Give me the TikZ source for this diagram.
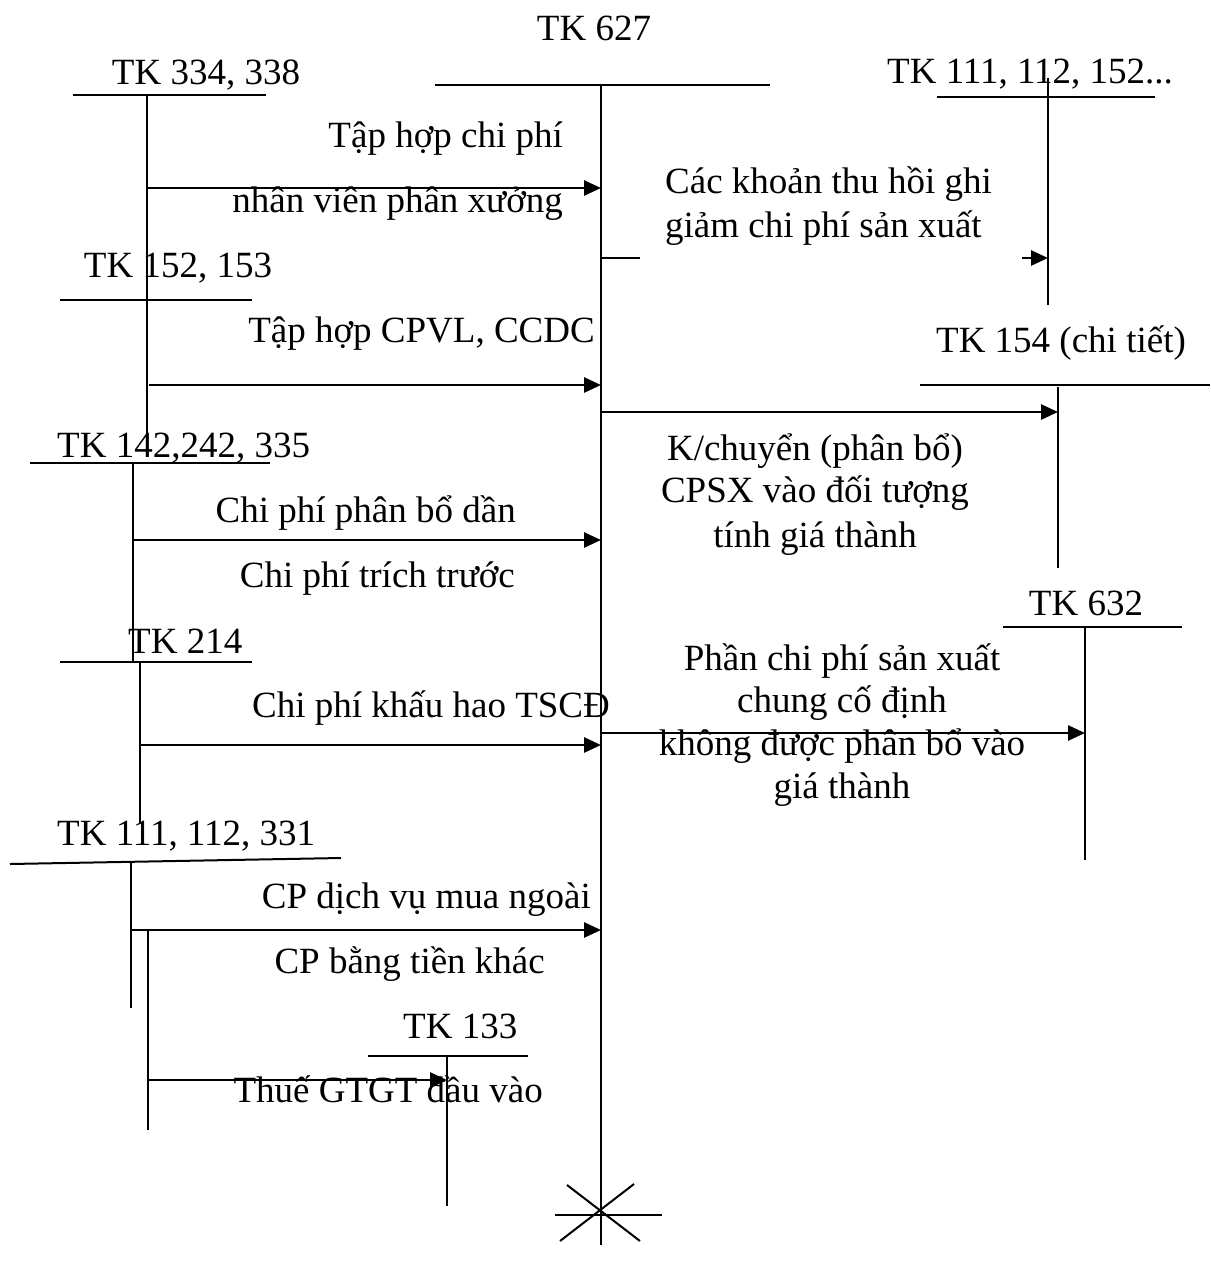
\documentclass[tikz,border=0pt]{standalone}
\usepackage{fontspec}
\setmainfont{Liberation Serif}
\usetikzlibrary{arrows.meta}
\begin{document}
\begin{tikzpicture}[x=1pt,y=-1pt,
  tline/.style={line width=2pt},
  tip/.style={-{Triangle[length=17pt,width=15pt]}},
  flow/.style={line width=2.8pt,tip},
  lbl/.style={inner sep=0pt,font=\fontsize{37}{43}\selectfont},
  lblr/.style={lbl,anchor=base east},
  lbll/.style={lbl,anchor=base west},
  lblc/.style={lbl,anchor=base}]
\useasboundingbox (0,0) rectangle (1210,1274);
% ---- main account TK 627
\node[lblc] (t627) at (594,40) {TK 627};
\draw[tline] (435,85) -- (770,85);
\draw[tline] (601,85) -- (601,1245);
\draw[tline] (555,1215) -- (662,1215);
\draw[tline] (567,1185) -- (640,1241);
\draw[tline] (634,1184) -- (560,1241);
% ---- TK 334, 338 and TK 152, 153
\node[lblc] (t334) at (206,84) {TK 334, 338};
\draw[tline] (73,95) -- (266,95);
\draw[tline] (147,95) -- (147,438);
\node[lblc] (t152) at (178,277) {TK 152, 153};
\draw[tline] (60,300) -- (252,300);
\coordinate (a1s) at (147,188); \coordinate (a1e) at (601,188);
\draw[flow] (a1s) -- (a1e);
\node[lblr] (l1a) at (563,147) {Tập hợp chi phí};
\node[lblr] (l1b) at (563,212) {nhân viên phân xưởng};
\coordinate (a2s) at (149,385); \coordinate (a2e) at (601,385);
\draw[flow] (a2s) -- (a2e);
\node[lblr] (l2) at (595,342) {Tập hợp CPVL, CCDC};
% ---- TK 142,242, 335
\node[lbll] (t142) at (57,457) {TK 142,242, 335};
\draw[tline] (30,463) -- (270,463);
\draw[tline] (133,463) -- (133,662);
\coordinate (a3s) at (133,540); \coordinate (a3e) at (601,540);
\draw[flow] (a3s) -- (a3e);
\node[lblr] (l3a) at (516,522) {Chi phí phân bổ dần};
\node[lblr] (l3b) at (515,587) {Chi phí trích trước};
% ---- TK 214
\node[lbll] (t214) at (128,653) {TK 214};
\draw[tline] (60,662) -- (252,662);
\draw[tline] (140,662) -- (140,823);
\coordinate (a4s) at (140,745); \coordinate (a4e) at (601,745);
\draw[flow] (a4s) -- (a4e);
\node[lblr] (l4) at (610,717) {Chi phí khấu hao TSCĐ};
% ---- TK 111, 112, 331
\node[lbll] (t111b) at (57,845) {TK 111, 112, 331};
\draw[tline] (10,864) -- (341,858);
\draw[tline] (131,862) -- (131,1008);
\draw[tline] (148,930) -- (148,1130);
\coordinate (a5s) at (131,930); \coordinate (a5e) at (601,930);
\draw[flow] (a5s) -- (a5e);
\node[lblr] (l5a) at (591,908) {CP dịch vụ mua ngoài};
\node[lblr] (l5b) at (545,973) {CP bằng tiền khác};
% ---- TK 133
\node[lbll] (t133) at (403,1038) {TK 133};
\draw[tline] (368,1056) -- (528,1056);
\draw[tline] (447,1056) -- (447,1206);
\coordinate (a6s) at (148,1080); \coordinate (a6e) at (447,1080);
\draw[flow] (a6s) -- (a6e);
\node[lblr] (l6) at (543,1102) {Thuế GTGT đầu vào};
% ---- TK 111, 112, 152...
\node[lbll] (t111a) at (887,83) {TK 111, 112, 152...};
\draw[tline] (937,97) -- (1155,97);
\draw[tline] (1048,78) -- (1048,305);
\coordinate (r1s) at (601,258); \coordinate (r1m) at (640,258);
\coordinate (r1n) at (1022,258); \coordinate (r1e) at (1048,258);
\draw[tline] (r1s) -- (r1m);
\draw[flow] (r1n) -- (r1e);
\node[lbll] (r1a) at (665,193) {Các khoản thu hồi ghi};
\node[lbll] (r1b) at (665,237) {giảm chi phí sản xuất};
% ---- TK 154 (chi tiết)
\node[lblc] (t154) at (1061,352) {TK 154 (chi tiết)};
\draw[tline] (920,385) -- (1210,385);
\draw[tline] (1058,387) -- (1058,568);
\coordinate (r2s) at (601,412); \coordinate (r2e) at (1058,412);
\draw[flow] (r2s) -- (r2e);
\node[lblc] (r2a) at (815,460) {K/chuyển (phân bổ)};
\node[lblc] (r2b) at (815,502) {CPSX vào đối tượng};
\node[lblc] (r2c) at (815,547) {tính giá thành};
% ---- TK 632
\node[lblc] (t632) at (1086,615) {TK 632};
\draw[tline] (1003,627) -- (1182,627);
\draw[tline] (1085,627) -- (1085,860);
\coordinate (r3s) at (601,733); \coordinate (r3e) at (1085,733);
\draw[flow] (r3s) -- (r3e);
\node[lblc] (r3a) at (842,670) {Phần chi phí sản xuất};
\node[lblc] (r3b) at (842,712) {chung cố định};
\node[lblc] (r3c) at (842,755) {không được phân bổ vào};
\node[lblc] (r3d) at (842,798) {giá thành};
\end{tikzpicture}
\end{document}
